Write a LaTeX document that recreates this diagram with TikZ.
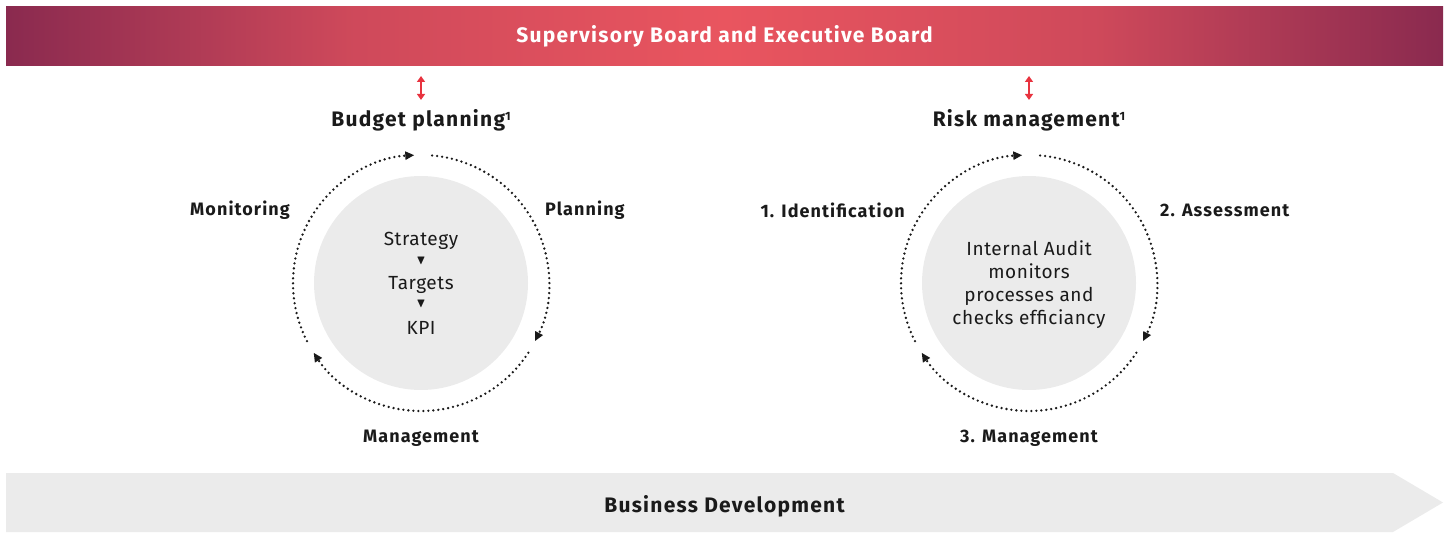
\documentclass[tikz,border=0pt]{standalone}
\usepackage{amssymb}
\usepackage{fontspec}
\setmainfont{Fira Sans}[LetterSpace=3]
\newfontfamily\widebf{Fira Sans}[LetterSpace=6]
\usepackage{tikz}
\usetikzlibrary{arrows.meta,calc}
\definecolor{boarddark}{HTML}{8A2A4F}
\definecolor{boardmid}{HTML}{E9555F}
\definecolor{link}{HTML}{E8333F}
\definecolor{ink}{HTML}{1A1A1A}
\definecolor{neutral}{HTML}{EBEBEB}
\colorlet{boardhalf}{boardmid!72!boarddark}
\pgfdeclarehorizontalshading{boardshade}{100bp}{color(0bp)=(boarddark);
  color(25bp)=(boarddark); color(37bp)=(boardhalf); color(50bp)=(boardmid);
  color(63bp)=(boardhalf); color(75bp)=(boarddark); color(100bp)=(boarddark)}
\newcommand{\fnmark}{\raisebox{6pt}{\fontsize{12}{12}\selectfont 1}}
\tikzset{
  every picture/.style={line cap=round, line join=round},
  title/.style={font=\widebf\fontsize{21}{24}\selectfont\bfseries, text=ink, inner sep=0pt},
  stage/.style={font=\widebf\fontsize{18}{21}\selectfont\bfseries, text=ink, inner sep=0pt},
  inner/.style={font=\fontsize{19}{23}\selectfont, text=ink, align=center, inner sep=0pt},
  tri/.style={font=\fontsize{13}{14}\selectfont, text=ink, inner sep=0pt},
  core/.style={fill=neutral, draw=none},
  cyc/.style={draw=ink, line width=2.6pt, dash pattern=on 0pt off 5pt,
    -{Triangle[length=9pt,width=8pt]}},
  linkarr/.style={draw=link, line width=1.6pt,
    {Triangle[length=6pt,width=8pt]}-{Triangle[length=6pt,width=8pt]}},
}

\begin{document}
\begin{tikzpicture}[x=1pt,y=1pt]
  \useasboundingbox (0,0) rectangle (1453,547);
  % =================== header bar ===================
  \shade[shading=boardshade] (6,481) rectangle (1443,540);
  \node[title, text=white] (board) at (724.5,510.5)
    {Supervisory Board and Executive Board};
  \coordinate (boardS) at (724.5,481);

  % =================== the two cycles ===================
  \coordinate (bc) at (421,264);
  \coordinate (rc) at (1029,264);
  \foreach \c in {bc,rc}{
    \fill[core] (\c) circle (107);
    \foreach \s/\e in {85/-27,-33/-147,-153/-267}{
      \draw[cyc] ($(\c)+(\s:128)$) arc[start angle=\s, end angle=\e, radius=128];}
  }

  % budget planning
  \node[title] (bp) at (421,427) {Budget planning\fnmark};
  \node[stage, anchor=east] (mon) at (290,337) {Monitoring};
  \node[stage, anchor=west] (pla) at (545,337) {Planning};
  \node[stage] (bman) at (421,109) {Management};
  \node[inner] (str) at (421,306) {Strategy};
  \node[tri] (t1) at (421,286) {$\blacktriangledown$};
  \node[inner] (tar) at (421,262) {Targets};
  \node[tri] (t2) at (421,243) {$\blacktriangledown$};
  \node[inner] (kpi) at (421,219) {KPI};

  % risk management
  \node[title] (rm) at (1029,427) {Risk management\fnmark};
  \node[stage, anchor=east] (ide) at (905,337) {1. Identification};
  \node[stage, anchor=west] (ass) at (1160,337) {2. Assessment};
  \node[stage] (rman) at (1029,109) {3. Management};
  \node[inner] (aud) at (1029,262.5)
    {Internal Audit\\ monitors\\ processes and\\ checks efficiancy};

  % links to the board
  \foreach \n in {bp,rm}{
    \draw[linkarr] (\n.north |- boardS) ++(0,-10) -- ($(\n.north)+(0,9)$);}

  % =================== business development ===================
  \fill[neutral] (6,15) -- (1393,15) -- (1443,44.5) -- (1393,74) -- (6,74) -- cycle;
  \node[title] (bd) at (724.5,41) {Business Development};
\end{tikzpicture}
\end{document}
